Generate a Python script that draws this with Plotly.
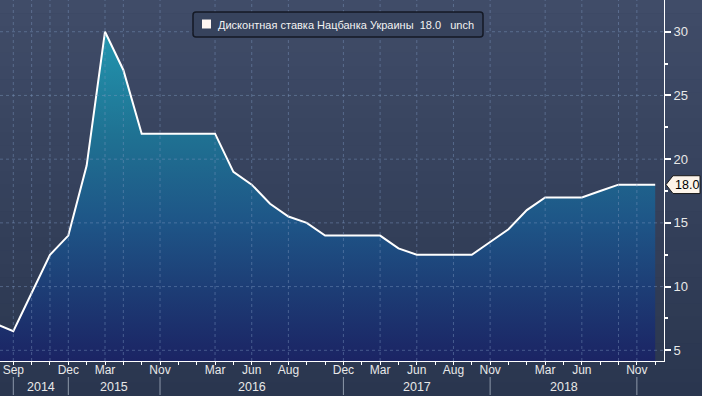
import plotly.graph_objects as go

# ---------------- data ----------------
series_name = "Дисконтная ставка Нацбанка Украины"
change_text = "unch"
# one value per observation (evenly spaced observations, first one is just off the left edge)
rate = [7.1, 6.5, 9.5, 12.5, 14.0, 19.5, 30.0, 27.0, 22.0, 22.0, 22.0, 22.0, 22.0,
        19.0, 18.0, 16.5, 15.5, 15.0, 14.0, 14.0, 14.0, 14.0, 13.0, 12.5, 12.5,
        12.5, 12.5, 13.5, 14.5, 16.0, 17.0, 17.0, 17.0, 17.5, 18.0, 18.0, 18.0]
obs = list(range(-1, len(rate) - 1))

# observations where a new month starts (grid lines), with the month label shown
month_tick_obs = [0, 1, 2, 3, 5, 6, 8, 11, 13, 15, 18, 20, 22, 24, 26, 29, 31, 33, 34]
month_tick_text = ["Sep", "", "", "Dec", "Mar", "", "Nov", "Mar", "Jun", "Aug",
                   "Dec", "Mar", "Jun", "Aug", "Nov", "Mar", "Jun", "", "Nov"]
years = ["2014", "2015", "2016", "2017", "2018"]
year_bound_obs = [0, 3, 8, 18, 26, 34]
y_ticks = [5, 10, 15, 20, 25, 30]

# ---------------- layout constants ----------------
W, H = 702, 396
ML, MR, MT, MB = 0, 38, 0, 35
PW, PH = W - ML - MR, H - MT - MB
X_RANGE = [-0.725, 35.48]
Y_RANGE = [4.16, 32.49]
FONT = "Liberation Sans, Arial, sans-serif"
TXT = "#e8e8e8"
GRID = "rgba(125,150,190,0.45)"


def pxx(x):
    return (x - ML) / PW


def pxy(y):
    return (PH + MT - y) / PH


fig = go.Figure()
fig.add_trace(go.Scatter(
    x=obs, y=rate, mode="lines",
    line=dict(color="white", width=2),
    fill="tozeroy",
    fillgradient=dict(type="vertical",
                      colorscale=[[0, "rgb(27,36,100)"], [0.226, "rgb(29,62,118)"],
                                  [0.42, "rgb(30,85,135)"], [0.613, "rgb(31,106,143)"],
                                  [0.69, "rgb(31,114,147)"], [1, "rgb(34,150,175)"]],
                      start=Y_RANGE[0], stop=30),
    hoverinfo="skip", showlegend=False))

shapes = []
# background gradient over the whole chart
N = 30
top, bot = (64, 76, 104), (42, 54, 79)
for k in range(N):
    t = k / (N - 1)
    c = tuple(round(top[i] + (bot[i] - top[i]) * t) for i in range(3))
    y0 = k * H / N
    y1 = (k + 1) * H / N + 0.5
    shapes.append(dict(type="rect", xref="paper", yref="paper", layer="below",
                       x0=-0.01, x1=1.08, y0=pxy(y1), y1=pxy(y0),
                       fillcolor="rgb(%d,%d,%d)" % c, line=dict(width=0)))

# dotted grid drawn over the area fill
for v in y_ticks:
    shapes.append(dict(type="line", xref="paper", yref="y", x0=0, x1=1, y0=v, y1=v,
                       line=dict(color=GRID, width=1, dash="dot")))
for m in month_tick_obs:
    shapes.append(dict(type="line", xref="x", yref="paper", x0=m, x1=m, y0=0, y1=1,
                       line=dict(color=GRID, width=1, dash="dot")))

# year separators under the month labels
for b in year_bound_obs:
    shapes.append(dict(type="line", xref="x", yref="paper", x0=b, x1=b,
                       y0=pxy(377), y1=pxy(395), line=dict(color="#8d98aa", width=1)))

# legend box (rounded)
bx0, by0, bx1, by1, r = 193, 12, 483, 37, 3
path = (f"M {pxx(bx0 + r)},{pxy(by0)} L {pxx(bx1 - r)},{pxy(by0)} "
        f"Q {pxx(bx1)},{pxy(by0)} {pxx(bx1)},{pxy(by0 + r)} L {pxx(bx1)},{pxy(by1 - r)} "
        f"Q {pxx(bx1)},{pxy(by1)} {pxx(bx1 - r)},{pxy(by1)} L {pxx(bx0 + r)},{pxy(by1)} "
        f"Q {pxx(bx0)},{pxy(by1)} {pxx(bx0)},{pxy(by1 - r)} L {pxx(bx0)},{pxy(by0 + r)} "
        f"Q {pxx(bx0)},{pxy(by0)} {pxx(bx0 + r)},{pxy(by0)} Z")
shapes.append(dict(type="path", xref="paper", yref="paper", path=path,
                   fillcolor="rgb(55,67,93)", line=dict(color="#141925", width=1.5)))
shapes.append(dict(type="rect", xref="paper", yref="paper",
                   x0=pxx(202), x1=pxx(211), y0=pxy(28.5), y1=pxy(19.5),
                   fillcolor="#fff6f2", line=dict(width=0)))

# last value tag on the right axis
last = rate[-1]
d = 0.7
tag = (f"M {pxx(666)},{last} L {pxx(673)},{last + d} L {pxx(700)},{last + d} "
       f"L {pxx(700)},{last - d} L {pxx(673)},{last - d} Z")
shapes.append(dict(type="path", xref="paper", yref="y", path=tag,
                   fillcolor="#fdf4ea", line=dict(color="#1a1a1a", width=1)))

annotations = []
for i, yr in enumerate(years):
    annotations.append(dict(x=(year_bound_obs[i] + year_bound_obs[i + 1]) / 2, xref="x",
                            y=pxy(386.5), yref="paper", text=yr, showarrow=False,
                            xanchor="center", yanchor="middle",
                            font=dict(family=FONT, size=12.5, color=TXT)))
nb = "\u00a0"
annotations.append(dict(x=pxx(216), y=pxy(24.5), xref="paper", yref="paper",
                        xanchor="left", yanchor="middle", showarrow=False,
                        text=f"{series_name}{nb*2}{last:.1f}{nb*3}{change_text}",
                        font=dict(family=FONT, size=11, color="#f2f2f2")))
annotations.append(dict(x=pxx(686.5), y=last, xref="paper", yref="y",
                        xanchor="center", yanchor="middle", showarrow=False,
                        text=f"{last:.1f}", font=dict(family=FONT, size=12.5, color="#000000")))

fig.update_layout(
    width=W, height=H,
    margin=dict(l=ML, r=MR, t=MT, b=MB, pad=0),
    paper_bgcolor="rgb(42,54,79)",
    plot_bgcolor="rgba(0,0,0,0)",
    shapes=shapes, annotations=annotations,
    showlegend=False,
    xaxis=dict(range=X_RANGE, tickmode="array", tickvals=month_tick_obs, ticktext=month_tick_text,
               showgrid=False, zeroline=False, showline=True, linecolor="white", linewidth=1,
               ticks="outside", ticklen=3, tickcolor="white", tickwidth=1,
               ticklabelstandoff=-5,
               minor=dict(tickmode="linear", tick0=0, dtick=1, ticks="outside",
                          ticklen=3, tickcolor="white", showgrid=False),
               tickfont=dict(family=FONT, size=12, color=TXT), automargin=False),
    yaxis=dict(range=Y_RANGE, side="right", tickmode="array", tickvals=y_ticks,
               showgrid=False, zeroline=False, showline=True, linecolor="white", linewidth=1,
               ticks="outside", ticklen=6, tickwidth=2, tickcolor="white",
               minor=dict(tickmode="linear", tick0=2.5, dtick=5, ticks="outside",
                          ticklen=3, tickcolor="white", showgrid=False),
               tickfont=dict(family=FONT, size=13, color=TXT), automargin=False),
)

fig.write_html("out.html", config={"displayModeBar": False},
               post_script="document.body.style.margin='0';document.body.style.overflow='hidden';")
